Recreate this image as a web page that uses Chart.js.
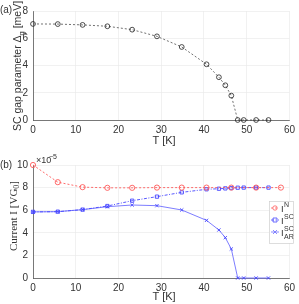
<!DOCTYPE html>
<html><head><meta charset="utf-8">
<script src="https://cdn.jsdelivr.net/npm/chart.js@4"></script>
<style>
html,body{margin:0;padding:0;background:#fff;}
#wrap{position:relative;width:299px;height:304px;}
#c1{position:absolute;left:0;top:0;}
#c2{position:absolute;left:0;top:150px;}
</style></head><body>
<div id="wrap">
<canvas id="c1" width="299" height="150" style="width:299px;height:150px"></canvas>
<canvas id="c2" width="299" height="154" style="width:299px;height:154px"></canvas>
</div>
<script>
// ---- data ----
const T_SC = [0, 5.8, 11.6, 17.4, 23.2, 29, 34.8, 40.6, 43.5, 45, 46.4, 47.9, 49.3, 52.2, 55.1];
const GAP = [7.05, 7.04, 6.98, 6.88, 6.63, 6.14, 5.36, 4.09, 3.14, 2.55, 1.79, 0, 0, 0, 0];
const T_N = [0, 5.8, 11.6, 17.4, 23.2, 29, 34.8, 40.6, 46.4, 52.2, 58];
const I_N = [10, 8.48, 8.04, 7.98, 7.98, 8.0, 8.0, 8.0, 8.0, 8.0, 8.0];
const I_SC = [5.85, 5.87, 6.05, 6.37, 6.84, 7.2, 7.58, 7.85, 7.9, 7.93, 7.96, 7.99, 8.0, 8.0, 8.0];
const I_AR = [5.85, 5.87, 6.05, 6.31, 6.46, 6.4, 6.02, 5.1, 4.25, 3.57, 2.57, 0, 0, 0, 0];
const X_TICKS = [0, 10, 20, 30, 40, 50, 60];
const Y_TICKS_A = [0, 2, 4, 6, 8];
const Y_TICKS_B = [0, 2, 4, 6, 8, 10];

const SANS = '"Liberation Sans", Arial, sans-serif';
const SERIF = '"Liberation Serif", "Times New Roman", serif';
const TXT = '#333';
const RED = 'rgb(255,90,90)';
const BLUE = 'rgb(70,70,255)';
const BLUE2 = 'rgb(110,110,255)';

function pts(xs, ys){ return xs.map((x,i)=>({x:x, y:ys[i]})); }

function rich(ctx, x, y, parts, rot){
  ctx.save();
  ctx.translate(x, y);
  if (rot) ctx.rotate(rot);
  let w = 0;
  parts.forEach(p=>{ ctx.font = p.f; p.w = ctx.measureText(p.t).width; w += p.w; });
  let cx = -w/2;
  ctx.textBaseline = 'middle';
  ctx.textAlign = 'left';
  ctx.fillStyle = TXT;
  parts.forEach(p=>{ ctx.font = p.f; ctx.fillText(p.t, cx, p.dy||0); cx += p.w; });
  ctx.restore();
}

function xScale(axisH){
  return {
    type:'linear', min:0, max:60,
    afterBuildTicks: s => { s.ticks = X_TICKS.map(v=>({value:v})); },
    afterFit: s => { s.height = axisH; },
    grid:{color:'#e8e8e8', lineWidth:0.6, drawTicks:false},
    border:{color:'#444', width:0.7},
    ticks:{font:{family:SANS,size:10}, color:TXT, padding:4, maxRotation:0}
  };
}
function yScale(max, ticks){
  return {
    type:'linear', min:0, max:max,
    afterBuildTicks: s => { s.ticks = ticks.map(v=>({value:v})); },
    afterFit: s => { s.width = 33; },
    grid:{color:'#e8e8e8', lineWidth:0.6, drawTicks:false},
    border:{color:'#444', width:0.7},
    ticks:{font:{family:SANS,size:10}, color:TXT, padding:5}
  };
}

const textA = {
  id:'textA',
  afterDraw(chart){
    const ctx = chart.ctx;
    rich(ctx, 18, 66, [
      {t:'SC gap parameter Δ', f:'10.5px '+SANS},
      {t:'g', f:'7.5px '+SANS, dy:4},
      {t:' [meV]', f:'10.5px '+SANS}
    ], -Math.PI/2);
    rich(ctx, 6, 10, [{t:'(a)', f:'10px '+SANS}]);
    rich(ctx, 164, 141, [{t:'T [K]', f:'11px '+SANS}]);
  }
};

const textB = {
  id:'textB',
  afterDraw(chart){
    const ctx = chart.ctx;
    rich(ctx, 14, 66, [
      {t:'Current I [VG', f:'11px '+SERIF},
      {t:'0', f:'8px '+SERIF, dy:3},
      {t:']', f:'11px '+SERIF}
    ], -Math.PI/2);
    rich(ctx, 6, 15, [{t:'(b)', f:'10px '+SANS}]);
    ctx.save();
    ctx.textAlign='left'; ctx.textBaseline='middle'; ctx.fillStyle=TXT;
    ctx.font = '9px '+SANS; ctx.fillText('×10', 36, 11);
    ctx.font = '7px '+SANS; ctx.fillText('\u22125', 49, 7);
    ctx.restore();
    rich(ctx, 164, 147, [{t:'T [K]', f:'11px '+SANS}]);
    // legend
    const lx=269, ly=51, lw=24, lh=42;
    ctx.save();
    ctx.fillStyle='#fff'; ctx.fillRect(lx,ly,lw,lh);
    ctx.strokeStyle='#cfcfcf'; ctx.lineWidth=0.7; ctx.strokeRect(lx+0.5,ly+0.5,lw,lh);
    const rows = [
      {y:ly+7, c:RED, m:'circle', dash:[2,2], sup:'N', sub:''},
      {y:ly+19, c:BLUE, m:'rect', dash:[3,1.5,1,1.5], sup:'SC', sub:''},
      {y:ly+31, c:BLUE2, m:'x', dash:[], sup:'SC', sub:'AR'}
    ];
    rows.forEach(r=>{
      ctx.strokeStyle=r.c; ctx.lineWidth=0.8; ctx.setLineDash(r.dash);
      ctx.beginPath(); ctx.moveTo(lx+2, r.y); ctx.lineTo(lx+10, r.y); ctx.stroke();
      ctx.setLineDash([]);
      const mx = lx+6;
      ctx.beginPath();
      if (r.m==='circle'){ ctx.arc(mx, r.y, 2.2, 0, Math.PI*2); }
      else if (r.m==='rect'){ ctx.rect(mx-2, r.y-2, 4, 4); }
      else { ctx.moveTo(mx-2,r.y-2); ctx.lineTo(mx+2,r.y+2); ctx.moveTo(mx+2,r.y-2); ctx.lineTo(mx-2,r.y+2); }
      ctx.stroke();
      ctx.fillStyle=TXT; ctx.textBaseline='middle'; ctx.textAlign='left';
      ctx.font='9.5px '+SANS; ctx.fillText('I', lx+12, r.y+1);
      ctx.font='7px '+SANS; ctx.fillText(r.sup, lx+15, r.y-3);
      if (r.sub){ ctx.fillText(r.sub, lx+15, r.y+5); }
    });
    ctx.restore();
  }
};

Chart.defaults.animation = false;
Chart.defaults.responsive = false;

new Chart(document.getElementById('c1'), {
  type:'line',
  data:{ datasets:[{
    data: pts(T_SC, GAP),
    borderColor:'#333', borderWidth:0.7, borderDash:[2,2],
    pointStyle:'circle', pointRadius:2.4, pointBorderColor:'#222', pointBorderWidth:0.8,
    pointBackgroundColor:'rgba(0,0,0,0)', fill:false, tension:0, clip:false
  }]},
  options:{
    layout:{padding:{left:0, right:5, top:8, bottom:0}},
    plugins:{legend:{display:false}, tooltip:{enabled:false}},
    scales:{ x: xScale(30), y: yScale(8, Y_TICKS_A) }
  },
  plugins:[textA]
});

new Chart(document.getElementById('c2'), {
  type:'line',
  data:{ datasets:[
    { data: pts(T_N, I_N), borderColor:RED, borderWidth:0.9, borderDash:[2,2],
      pointStyle:'circle', pointRadius:2.6, pointBorderColor:RED, pointBorderWidth:0.9,
      pointBackgroundColor:'rgba(0,0,0,0)', fill:false, tension:0, clip:false },
    { data: pts(T_SC, I_SC), borderColor:BLUE, borderWidth:0.9, borderDash:[3,1.5,1,1.5],
      pointStyle:'rect', pointRadius:2.3, pointBorderColor:BLUE, pointBorderWidth:0.9,
      pointBackgroundColor:'rgba(0,0,0,0)', fill:false, tension:0, clip:false },
    { data: pts(T_SC, I_AR), borderColor:BLUE2, borderWidth:0.9,
      pointStyle:'crossRot', pointRadius:2.3, pointBorderColor:BLUE, pointBorderWidth:0.9,
      fill:false, tension:0, clip:false }
  ]},
  options:{
    layout:{padding:{left:0, right:5, top:15, bottom:0}},
    plugins:{legend:{display:false}, tooltip:{enabled:false}},
    scales:{ x: xScale(26), y: yScale(10, Y_TICKS_B) }
  },
  plugins:[textB]
});
</script>
</body></html>
